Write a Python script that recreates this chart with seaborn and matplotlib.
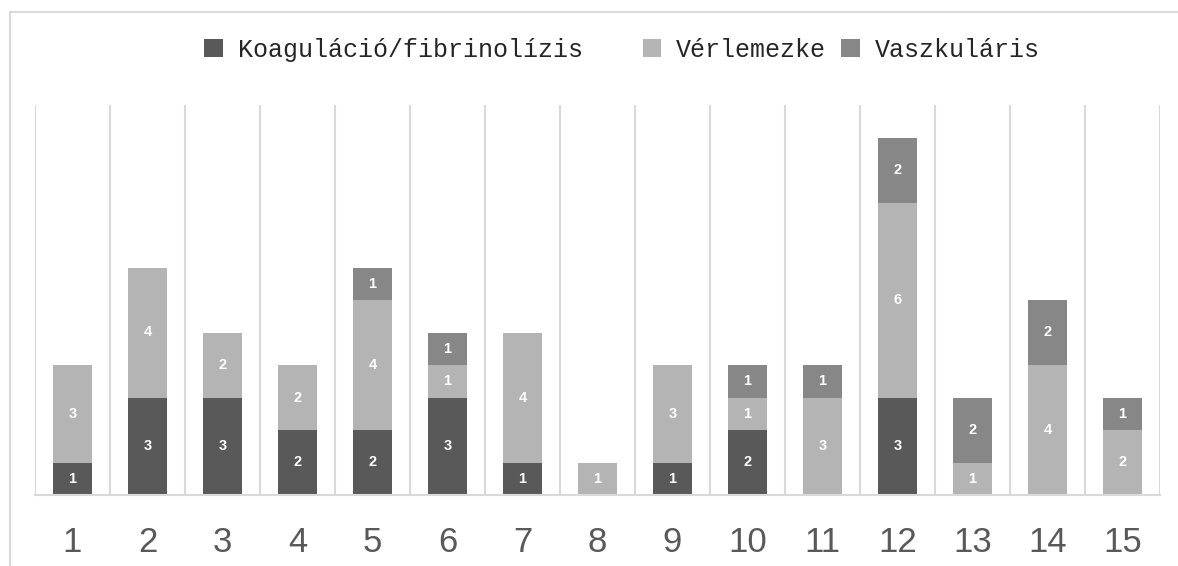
import numpy as np
import matplotlib.pyplot as plt
import pandas as pd
import seaborn as sns
from matplotlib.patches import Patch
from matplotlib.lines import Line2D

categories = [str(i) for i in range(1, 16)]
koag = [1, 3, 3, 2, 2, 3, 1, 0, 1, 2, 0, 3, 0, 0, 0]
verlem = [3, 4, 2, 2, 4, 1, 4, 1, 3, 1, 3, 6, 1, 4, 2]
vaszk = [0, 0, 0, 0, 1, 1, 0, 0, 0, 1, 1, 2, 2, 2, 1]
series_names = ['Koaguláció/fibrinolízis', 'Vérlemezke', 'Vaszkuláris']
colors = ['#595959', '#b4b4b4', '#878787']

df = pd.DataFrame({'cat': categories, 'Koag': koag, 'Verlem': verlem, 'Vaszk': vaszk})

sns.set_style('white')
plt.rcParams['font.family'] = ['Liberation Sans', 'DejaVu Sans']

fig = plt.figure(figsize=(11.78, 5.66), dpi=100)
ax = fig.add_axes([35 / 1178, 71 / 566, 1125 / 1178, 390 / 566])

bottom = np.zeros(len(categories))
for col, color in zip(['Koag', 'Verlem', 'Vaszk'], colors):
    sns.barplot(data=df, x='cat', y=col, order=categories, color=color,
                width=0.53, bottom=bottom, ax=ax, saturation=1, linewidth=0)
    cont = ax.containers[-1]
    labels = [str(v) if v > 0 else '' for v in df[col]]
    ax.bar_label(cont, labels=labels, label_type='center', color='white',
                 fontsize=10.5, fontweight='bold')
    bottom = bottom + df[col].values

ax.set_xlim(-0.5, 14.5)
ax.set_ylim(0, 12)
ax.set_yticks([])
ax.set_xlabel('')
ax.set_ylabel('')
for x in np.arange(-0.5, 15, 1):
    ax.axvline(x, color='#d9d9d9', lw=1.5, zorder=0)
for s in ['top', 'right', 'left']:
    ax.spines[s].set_visible(False)
ax.spines['bottom'].set_color('#d9d9d9')
ax.spines['bottom'].set_linewidth(1.5)
ax.tick_params(axis='x', length=0, pad=22, labelsize=25, labelcolor='#595959')

handles = [Patch(facecolor=c, edgecolor='none') for c in colors]
leg_labels = [series_names[0] + '   ', series_names[1], series_names[2]]
fig.legend(handles, leg_labels, loc='center', bbox_to_anchor=(622 / 1178, 1 - 50 / 566),
           ncol=3, frameon=False, handlelength=0.75, handleheight=0.75,
           handletextpad=0.6, columnspacing=0.6,
           prop={'family': 'Liberation Mono', 'size': 18})

# outer chart frame
fig.add_artist(Line2D([10 / 1178, 10 / 1178], [0, 1 - 12 / 566], color='#d9d9d9', lw=1.5))
fig.add_artist(Line2D([10 / 1178, 1], [1 - 12 / 566, 1 - 12 / 566], color='#d9d9d9', lw=1.5))

fig.savefig('out.png', dpi=100)
